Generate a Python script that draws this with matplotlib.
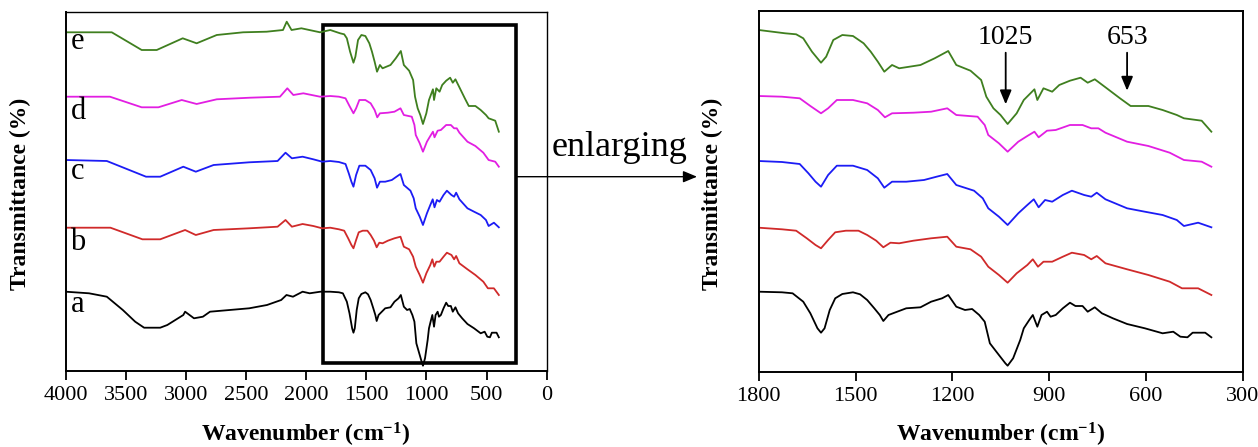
import matplotlib
matplotlib.use('Agg')
import matplotlib.pyplot as plt
from matplotlib.patches import Rectangle, FancyArrowPatch

plt.rcParams['font.family'] = ['Liberation Serif', 'DejaVu Serif']
plt.rcParams['mathtext.fontset'] = 'custom'
plt.rcParams['mathtext.rm'] = 'Liberation Serif'
plt.rcParams['mathtext.bf'] = 'Liberation Serif:bold'
plt.rcParams['mathtext.default'] = 'bf'

# FTIR spectra, stacked (transmittance in arbitrary units incl. offset)
a_wn = [4000, 3806, 3658, 3525, 3422, 3348, 3214, 3155, 3022, 3007, 2933, 2859, 2800, 2474, 2326, 2208,
        2164, 2110, 2030, 1971, 1882, 1800, 1728, 1695, 1662, 1640, 1618, 1607, 1596, 1580, 1563, 1541,
        1508, 1486, 1464, 1442, 1425, 1414, 1398, 1376, 1343, 1299, 1266, 1232, 1213, 1188, 1161, 1139,
        1117, 1100, 1084, 1056, 1036, 1029, 1012, 990, 979, 962, 951, 937, 924, 907, 896, 880, 858, 836,
        819, 797, 781, 759, 737, 703, 659, 604, 549, 516, 494, 472, 456, 417, 398]
a_t = [80.3, 78.7, 75.3, 62, 50.3, 44.3, 44.3, 47, 57, 60.3, 53.7, 55.3, 60.3, 63.7, 67, 72,
       77, 75.3, 80.3, 78.7, 80.3, 80.3, 79.7, 78.7, 70.3, 58.7, 43.7, 39.3, 43.7, 62, 73.7, 78,
       79.7, 77.7, 72, 63.7, 57, 51, 57, 59.7, 63.7, 64.7, 70.3, 73.7, 77, 65.3, 62, 63,
       57, 50.3, 28.7, 17, 8.7, 6.3, 13.7, 32, 43.7, 52, 57, 45.3, 57, 60.3, 55.3, 57, 63.7, 69.3,
       66, 66, 60.3, 64.7, 58.7, 53.7, 48, 43.7, 38.7, 40.3, 35.3, 34.7, 39.3, 39.3, 34.7]

b_wn = [4000, 3628, 3362, 3214, 3007, 2918, 2770, 2474, 2238, 2172, 2119, 2030, 1941, 1867, 1800, 1728,
        1684, 1651, 1624, 1607, 1585, 1563, 1530, 1491, 1464, 1436, 1414, 1392, 1365, 1321, 1266, 1216,
        1188, 1144, 1111, 1089, 1056, 1029, 1001, 968, 951, 935, 918, 891, 858, 830, 792, 770, 753, 726,
        659, 593, 527, 489, 439, 398]
b_t = [144.3, 144.3, 132.7, 132.7, 142, 137, 142, 143.7, 145.3, 152, 145.3, 148, 146, 143.7, 144.3, 142.7,
       141.3, 133.7, 127, 123.7, 132, 139.7, 141.3, 141.3, 137, 131.3, 124.7, 129.3, 128.7, 131.3, 133.7, 135.3,
       125.3, 122.7, 115.3, 105.3, 97, 89.3, 98.7, 107, 112.7, 105.3, 110.3, 110.3, 115.3, 119.3, 117, 112.7,
       116, 108.7, 102.7, 97, 90.3, 83.7, 83.7, 77]

c_wn = [4000, 3658, 3332, 3214, 3022, 2918, 2770, 2474, 2238, 2172, 2119, 2030, 1941, 1867, 1800, 1728,
        1673, 1646, 1624, 1607, 1585, 1558, 1508, 1464, 1431, 1411, 1387, 1343, 1288, 1249, 1216, 1188,
        1133, 1106, 1089, 1056, 1029, 996, 968, 948, 933, 913, 891, 858, 830, 792, 770, 753, 726, 659,
        604, 549, 505, 483, 439, 398]
c_t = [212, 211, 195.3, 195.3, 205.3, 200.3, 207, 209.7, 211, 219.3, 213.7, 215.3, 212.7, 210.3, 211, 210,
       208, 198.7, 190.3, 185.3, 197, 206.3, 206.3, 202, 193.7, 184.3, 190.3, 190.3, 192, 195.3, 198, 187,
       181.3, 173.7, 163.7, 155.3, 147, 158.7, 167, 172.7, 164.7, 172, 170.3, 177, 181.3, 177, 175.3, 179.3,
       172.7, 163.7, 160.3, 157, 152, 146, 149.3, 144.7]

d_wn = [4000, 3632, 3368, 3229, 3035, 2911, 2744, 2467, 2218, 2157, 2107, 2024, 1885, 1800, 1728, 1673,
        1640, 1607, 1585, 1558, 1508, 1464, 1431, 1409, 1387, 1321, 1266, 1216, 1188, 1122, 1100, 1089,
        1056, 1029, 996, 968, 946, 933, 907, 880, 836, 797, 770, 748, 726, 659, 593, 527, 483, 428, 398]
d_t = [275.3, 275.3, 264.7, 264.7, 272, 268, 272.7, 274.3, 275.3, 283.7, 277, 278.7, 275.3, 276, 275.3, 273.7,
       266, 258.7, 263.7, 272, 272, 268.7, 262, 254.7, 258.7, 259.3, 260.3, 263.7, 257, 255.3, 247, 237,
       228.7, 220.3, 230.3, 236, 240.3, 234.7, 241.3, 242, 247, 247, 243.7, 243.7, 239.3, 230.3, 226, 219.3,
       212, 210.3, 205.3]

e_wn = [4000, 3617, 3368, 3243, 3027, 2911, 2744, 2525, 2329, 2193, 2162, 2122, 2040, 1885, 1800, 1718,
        1684, 1662, 1635, 1607, 1591, 1569, 1541, 1508, 1475, 1453, 1431, 1411, 1387, 1365, 1299, 1255,
        1213, 1188, 1144, 1111, 1095, 1073, 1051, 1029, 1001, 979, 946, 937, 918, 891, 869, 836, 803, 781,
        759, 726, 681, 648, 593, 549, 505, 483, 428, 398]
e_t = [339.7, 339.7, 322, 322, 333.7, 328.7, 337, 339.7, 340.3, 342, 350.3, 342, 343.7, 339.7, 342, 338.7,
       337.7, 333.7, 320.3, 309.3, 315.3, 332, 337, 336, 328.7, 320.3, 310.3, 300.3, 307, 303.7, 307, 313.7,
       321, 307, 301.3, 292, 275.3, 263.7, 257, 248, 258.7, 272, 282.7, 272, 283.7, 280.3, 287, 291.3, 294.3, 289.3,
       292.7, 284.7, 273.7, 266, 266, 262, 257, 253.7, 251.3, 240.3]

series = [('a', a_wn, a_t, 'black', 68),
          ('b', b_wn, b_t, '#d02a2a', 129.3),
          ('c', c_wn, c_t, '#1c1cf5', 200.3),
          ('d', d_wn, d_t, '#e21ee2', 260.3),
          ('e', e_wn, e_t, '#3f7f1f', 330.3)]

# enlarged region and marked bands
zoom_lo, zoom_hi = 258, 1858
bands = [('1025', 1035, 267.7), ('653', 659, 281.3)]

W, H = 1258, 447
fig = plt.figure(figsize=(W / 100, H / 100), dpi=100)
ax1 = fig.add_axes([65.7 / W, 1 - 371 / H, 481 / W, 358.7 / H])
ax2 = fig.add_axes([758.7 / W, 1 - 372.3 / H, 484.3 / W, 361.8 / H])

for ax in (ax1, ax2):
    for name, wn, t, col, ly in series:
        ax.plot(wn, t, color=col, lw=1.3)
    ax.set_yticks([])
    ax.tick_params(axis='x', direction='out', length=6.5, width=1.3, labelsize=16, pad=4)
    for s in ax.spines.values():
        s.set_linewidth(1.4)

ax1.spines['top'].set_linewidth(1.0)
ax1.spines['right'].set_linewidth(1.0)

ax1.set_xlim(4000, 0)
ax1.set_ylim(1, 359.7)
ax1.set_xticks(range(4000, -1, -500))
ax2.set_xlim(1800, 300)
ax2.set_ylim(-0.3, 361.5)
ax2.set_xticks([1800, 1500, 1200, 900, 600, 300])

for name, wn, t, col, ly in series:
    ax1.text(3960, ly, name, fontsize=22, ha='left', va='center')

ax1.add_patch(Rectangle((zoom_lo, 8.7), zoom_hi - zoom_lo, 338.3, fill=False, lw=2.6,
                        edgecolor='black', clip_on=False))

fig.text(552 / W, 1 - 156 / H, 'enlarging', fontsize=26, va='baseline', ha='left')
fig.add_artist(FancyArrowPatch((516 / W, 1 - 176.7 / H), (697 / W, 1 - 176.7 / H),
                               transform=fig.transFigure, arrowstyle='-|>,head_length=0.6,head_width=0.25',
                               mutation_scale=14, lw=1.0, color='black', shrinkA=0, shrinkB=0))

for lab, x, tip in bands:
    ax2.annotate('', xy=(x, tip), xytext=(x, 319.3),
                 arrowprops=dict(arrowstyle='-|>,head_length=0.6,head_width=0.25', color='black',
                                 lw=1.3, shrinkA=0, shrinkB=0, mutation_scale=14))
    ax2.text(x, 334.5, lab, fontsize=20, ha='center', va='center')

for xc in (20, 712):
    fig.text(xc / W, 1 - 194 / H, 'Transmittance (%)', rotation=90, fontsize=17,
             fontweight='bold', ha='center', va='center')
for xc in (306, 1001):
    fig.text(xc / W, 1 - 435 / H, 'Wavenumber (cm$^{-1}$)', fontsize=17,
             fontweight='bold', ha='center', va='center')

fig.savefig('out.png', dpi=100)
